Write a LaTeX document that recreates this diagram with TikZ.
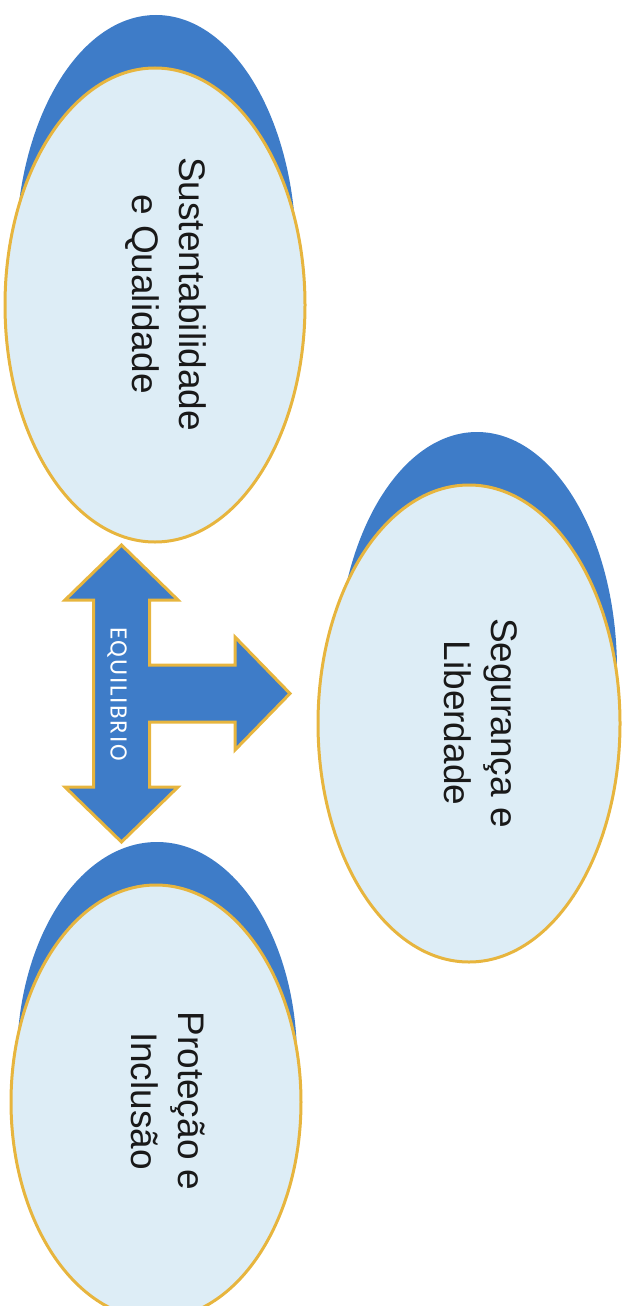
\documentclass[tikz,border=0pt]{standalone}
\usepackage{fontspec}
\setmainfont{Liberation Sans}
\newfontfamily\eqfont[LetterSpace=7]{Carlito}
\usetikzlibrary{shapes.geometric}
\definecolor{shadowblue}{RGB}{62,124,200}
\definecolor{paleblue}{RGB}{221,237,246}
\definecolor{gold}{RGB}{231,181,62}
\definecolor{ink}{RGB}{25,25,25}
\tikzset{
  shadowell/.style={ellipse, fill=shadowblue, draw=none, inner sep=0pt, minimum width=280pt},
  paleell/.style={ellipse, fill=paleblue, draw=gold, line width=3pt, inner sep=0pt},
  ovaltext/.style={rotate=-90, align=center, text=ink, inner sep=0pt, font=\fontsize{37}{47}\selectfont},
  eqtext/.style={rotate=-90, text=white, inner sep=0pt, font=\eqfont\fontsize{25}{28}\selectfont},
  bigarrow/.style={fill=shadowblue, draw=gold, line width=3pt, line join=miter}
}
\begin{document}
\begin{tikzpicture}[x=1pt,y=-1pt]
\useasboundingbox (0,0) rectangle (625,1306);
\clip (0,0) rectangle (625,1306);
% blue back ellipses
\node[shadowell, minimum height=474pt] (s1) at (156,252) {};
\node[shadowell, minimum height=476pt] (s2) at (477,670) {};
\node[shadowell, minimum height=434pt] (s3) at (157,1059) {};
% pale front ellipses
\node[paleell, minimum width=300pt, minimum height=474pt] (p1) at (155,305) {};
\node[paleell, minimum width=302pt, minimum height=477pt] (p2) at (469,723.5) {};
\node[paleell, minimum width=290pt, minimum height=434pt] (p3) at (156,1102) {};
% three-way arrow
\coordinate (tt) at (121.5,545);
\coordinate (bt) at (121.5,842);
\coordinate (rt) at (290,693.5);
\draw[bigarrow] (tt) -- (178,600) -- (149.5,600) -- (149.5,665) -- (235,665) -- (235,637)
  -- (rt) -- (235,750) -- (235,722) -- (149.5,722) -- (149.5,787) -- (178,787)
  -- (bt) -- (65,787) -- (93.5,787) -- (93.5,600) -- (65,600) -- cycle;
\node[eqtext] (eq) at (117,694) {EQUILIBRIO};
% texts
\node[ovaltext] (t1) at (166,294) {Sustentabilidade\\e Qualidade};
\node[ovaltext] (t2) at (481,723) {Segurança e\\Liberdade};
\node[ovaltext] (t3) at (168,1101) {Proteção e\\Inclusão};
\end{tikzpicture}
\end{document}
